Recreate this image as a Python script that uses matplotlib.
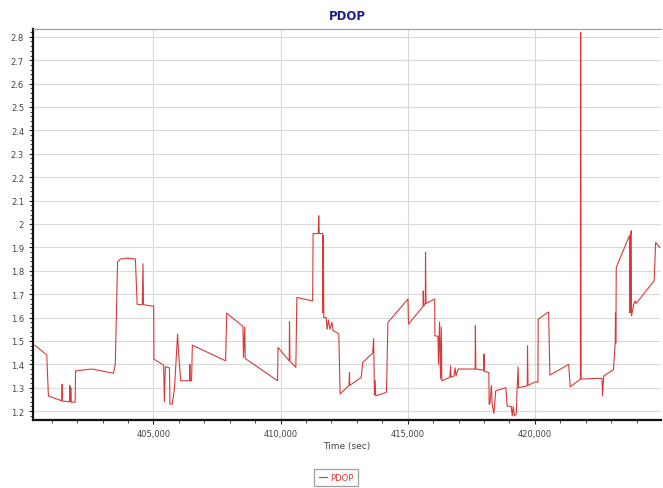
import matplotlib
matplotlib.use("Agg")
import matplotlib.pyplot as plt
from matplotlib.ticker import MultipleLocator, FuncFormatter

# PDOP series (time in seconds)
time_sec = [
    400340, 400805, 400870, 401400, 401410, 401420, 401700, 401710, 401720, 401760, 401770, 401920,
    401940, 402580, 403430, 403500, 403590, 403700, 403960, 404290, 404360, 404560, 404590, 404610,
    404880, 405010, 405020, 405400, 405430, 405470, 405630, 405650, 405740, 405830, 405950, 405990,
    406070, 406420, 406430, 406450, 406500, 406530, 407840, 407880, 408520, 408540, 408590, 408610,
    409880, 409900, 410340, 410350, 410370, 410600, 410640, 411260, 411280, 411480, 411500, 411520,
    411650, 411660, 411680, 411700, 411790, 411830, 411880, 411940, 412020, 412060, 412290, 412340,
    412690, 412710, 412720, 413170, 413230, 413620, 413660, 413690, 413720, 413740, 414160, 414180,
    414220, 415010, 415030, 415600, 415610, 415630, 415690, 415700, 415720, 416060, 416070, 416190,
    416210, 416250, 416290, 416320, 416340, 416650, 416690, 416700, 416820, 416860, 416900, 416980,
    417400, 417650, 417660, 417680, 417980, 418000, 418010, 418190, 418200, 418230, 418290, 418320,
    418390, 418460, 418860, 418910, 419070, 419110, 419150, 419190, 419270, 419300, 419340, 419360,
    419700, 419710, 419730, 420000, 420120, 420130, 420540, 420590, 421330, 421390, 421790, 421800,
    421820, 422440, 422640, 422660, 422710, 423090, 423160, 423170, 423180, 423190, 423200, 423720,
    423740, 423760, 423790, 423800, 423890, 423940, 423980, 424690, 424750, 424910,
]
pdop = [
    1.482, 1.440, 1.265, 1.244, 1.315, 1.243, 1.240, 1.310, 1.240, 1.300, 1.238, 1.238,
    1.372, 1.380, 1.362, 1.400, 1.837, 1.850, 1.854, 1.850, 1.657, 1.655, 1.830, 1.655,
    1.650, 1.649, 1.422, 1.397, 1.240, 1.390, 1.385, 1.230, 1.230, 1.300, 1.530, 1.450,
    1.330, 1.330, 1.400, 1.330, 1.330, 1.482, 1.415, 1.619, 1.562, 1.430, 1.560, 1.425,
    1.330, 1.472, 1.415, 1.582, 1.413, 1.387, 1.686, 1.671, 1.959, 1.959, 2.035, 1.959,
    1.959, 1.620, 1.950, 1.600, 1.600, 1.550, 1.590, 1.550, 1.580, 1.545, 1.530, 1.273,
    1.310, 1.365, 1.310, 1.344, 1.408, 1.448, 1.510, 1.270, 1.330, 1.265, 1.280, 1.358,
    1.579, 1.679, 1.572, 1.647, 1.714, 1.650, 1.660, 1.880, 1.660, 1.679, 1.522, 1.520,
    1.400, 1.580, 1.340, 1.560, 1.330, 1.344, 1.394, 1.345, 1.350, 1.385, 1.350, 1.380,
    1.380, 1.380, 1.565, 1.380, 1.375, 1.444, 1.370, 1.365, 1.230, 1.230, 1.310, 1.230,
    1.190, 1.287, 1.300, 1.222, 1.220, 1.180, 1.220, 1.180, 1.190, 1.294, 1.390, 1.300,
    1.308, 1.479, 1.310, 1.324, 1.324, 1.593, 1.624, 1.354, 1.400, 1.304, 1.337, 2.820,
    1.337, 1.340, 1.340, 1.265, 1.351, 1.377, 1.494, 1.620, 1.490, 1.600, 1.814, 1.950,
    1.620, 1.960, 1.971, 1.607, 1.657, 1.671, 1.660, 1.757, 1.921, 1.900,
]

line_color = "#d83a3a"
text_color = "#444444"

fig = plt.figure(figsize=(6.63, 4.89), dpi=100)
ax = fig.add_axes([0.050, 0.139, 0.947, 0.800])

ax.plot(time_sec, pdop, color=line_color, linewidth=0.8, label="PDOP")

ax.set_xlim(400270, 424960)
ax.set_ylim(1.162, 2.834)

ax.xaxis.set_major_locator(MultipleLocator(5000))
ax.xaxis.set_minor_locator(MultipleLocator(1000))
ax.yaxis.set_major_locator(MultipleLocator(0.1))
ax.yaxis.set_minor_locator(MultipleLocator(0.02))
ax.xaxis.set_major_formatter(FuncFormatter(lambda v, p: f"{v:,.0f}"))
ax.yaxis.set_major_formatter(FuncFormatter(lambda v, p: f"{round(v, 1):g}"))

ax.grid(True, which="major", color="#d9d9d9", linewidth=0.8)
ax.set_axisbelow(True)

ax.tick_params(axis="both", which="major", labelsize=6, colors="#222222",
               labelcolor=text_color, length=3, width=0.8)
ax.tick_params(axis="both", which="minor", length=2, width=0.6, colors="#222222")

for side in ["left", "bottom"]:
    ax.spines[side].set_linewidth(1.6)
    ax.spines[side].set_color("#111111")
ax.spines["top"].set_color("#999999")
ax.spines["top"].set_linewidth(0.8)
ax.spines["right"].set_visible(False)

ax.set_xlabel("Time (sec)", fontsize=6.5, color=text_color, labelpad=2)
ax.set_title("PDOP", fontsize=8.5, fontweight="bold", color="#1c1c8a", pad=7)

leg = fig.legend(loc="center", bbox_to_anchor=(0.507, 0.022), fontsize=6,
                 handlelength=1.0, handletextpad=0.4, fancybox=False,
                 borderpad=0.5, labelcolor=line_color)
leg.get_frame().set_edgecolor("#888888")
leg.get_frame().set_linewidth(0.9)

fig.savefig("out.png", dpi=100)
